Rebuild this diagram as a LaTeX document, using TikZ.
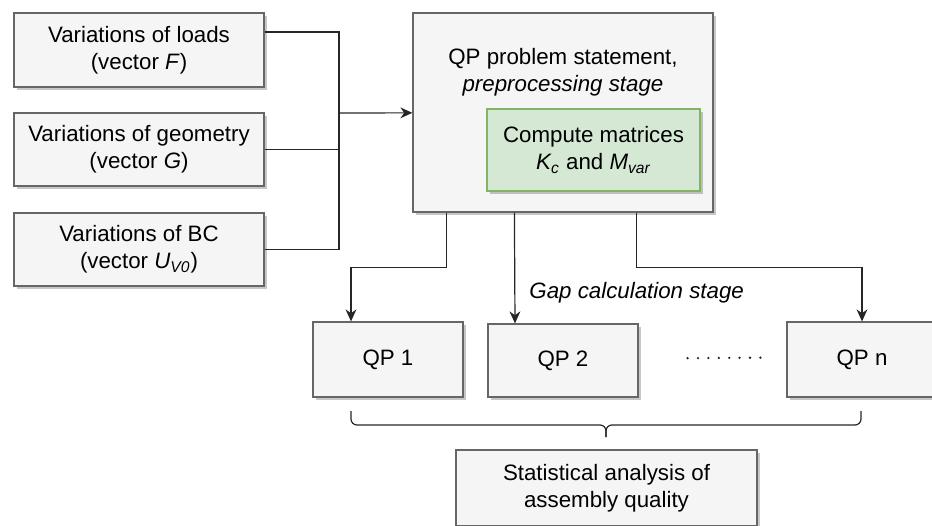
\documentclass[tikz,border=0pt]{standalone}
\usepackage{fontspec}
\setmainfont{Liberation Sans}
\usepackage{xcolor}
\usepackage{tikz}
\usetikzlibrary{arrows, arrows.meta, positioning, calc, shadows}
\definecolor{boxgray}{HTML}{F5F5F5}
\definecolor{edgegray}{HTML}{666666}
\definecolor{calcgreen}{HTML}{D5E8D4}
\definecolor{calcedge}{HTML}{82B366}

\begin{document}
\begin{tikzpicture}[x=0.5pt, y=-0.5pt,
    stagebox/.style={draw=edgegray, fill=boxgray, line width=0.6pt, inner sep=0pt, align=center,
        font=\fontsize{11.15pt}{13.4pt}\selectfont,
        drop shadow={shadow xshift=1.3pt, shadow yshift=-1.3pt, fill=black, opacity=0.22}},
    greenbox/.style={stagebox, draw=calcedge, fill=calcgreen},
    plaintext/.style={inner sep=0pt, align=center, font=\fontsize{11.15pt}{13.4pt}\selectfont},
    link/.style={draw=black!85, line width=0.6pt},
    tip/.style={-{Stealth[length=6pt, width=5.4pt, inset=1.9pt]}}]
    \clip (0,0) rectangle (932,525);

    % Input variations
    \node[stagebox, minimum width=125pt, minimum height=37pt] (loads) at (139,50)
        {Variations of loads\\(vector \textit{F})};
    \node[stagebox, minimum width=125pt, minimum height=36.5pt] (geom) at (139,149.5)
        {Variations of geometry\\(vector \textit{G})};
    \node[stagebox, minimum width=125pt, minimum height=36.5pt] (bc) at (139,249.5)
        {Variations of BC\\(vector \textit{U\textsubscript{V0}})};

    % Preprocessing stage
    \node[stagebox, minimum width=150pt, minimum height=99.5pt] (main) at (563,112.5) {};
    \node[plaintext] (mainText) at (563,72) {QP problem statement,\\\textit{preprocessing stage}};
    \node[greenbox, minimum width=106.5pt, minimum height=41pt] (matrices) at (593.5,150)
        {Compute matrices\\\textit{K\textsubscript{c}} and \textit{M\textsubscript{var}}};

    % Gap calculation stage
    \node[stagebox, minimum width=75pt, minimum height=37.5pt] (qp1) at (388,359.5) {QP 1};
    \node[stagebox, minimum width=75pt, minimum height=36.5pt] (qp2) at (563,360.5) {QP 2};
    \node[stagebox, minimum width=75pt, minimum height=37.5pt] (qpn) at (862,359.5) {QP n};

    % Statistics
    \node[stagebox, minimum width=150.5pt, minimum height=38pt] (stat) at (606.5,488)
        {Statistical analysis of\\assembly quality};

    % Inputs to preprocessing
    \coordinate (join) at (339,113);
    \draw[link] ($(loads.east)+(0,-18)$) -| (join);
    \draw[link] (geom.east) -| (join);
    \draw[link] (bc.east) -| (join);
    \draw[link, tip] (join) -- (main);

    % Preprocessing to QPs
    \draw[link, tip] ($(main.south west)+(34,0)$) -- ++(0,55) -| ($(qp1.north)+(-37,0)$);
    \draw[link, tip] ($(main.south west)+(102,0)$) -- ($(qp2.north)+(-48,0)$)
        node[plaintext, pos=0.72, anchor=west, xshift=7pt] (gap) {\textit{Gap calculation stage}};
    \draw[link, tip] ($(main.south west)+(224,0)$) -- ++(0,55) -| (qpn.north);

    % Dots between QP 2 and QP n
    \draw[black!85, line width=1.3pt, line cap=round, dash pattern=on 0pt off 5.2pt,
        shorten <=24.5pt, shorten >=13pt] ($(qp2.east)+(0,-2)$) -- ($(qpn.west)+(0,-2)$);

    % Brace
    \coordinate (braceL) at (351,411);
    \coordinate (braceR) at (861,411);
    \coordinate (braceTip) at (606,437);
    \draw[link, rounded corners=3pt] (braceL) |- (606,425) -- (braceTip);
    \draw[link, rounded corners=3pt] (braceR) |- (606,425) -- (braceTip);
\end{tikzpicture}
\end{document}
